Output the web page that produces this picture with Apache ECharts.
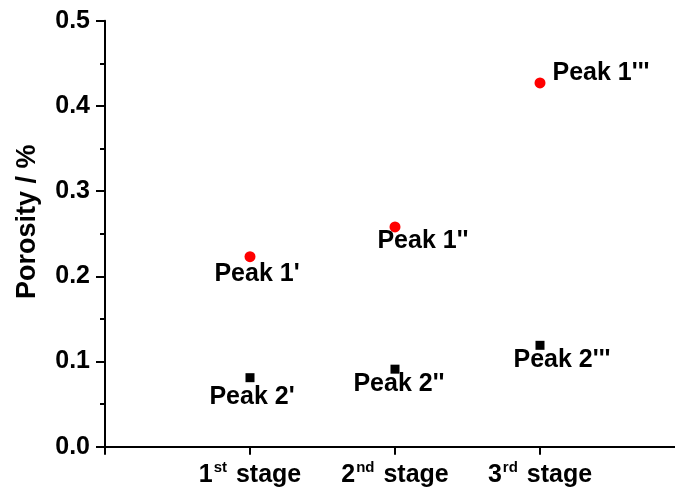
<!DOCTYPE html>
<html>
<head>
<meta charset="utf-8">
<script src="https://cdn.jsdelivr.net/npm/echarts@6/dist/echarts.min.js"></script>
<style>html,body{margin:0;padding:0;background:#fff}#c{width:675px;height:495px}</style>
</head>
<body>
<div id="c"></div>
<script>
// ---- data ----
const stages = [1, 2, 3];
const stageNums = ['1', '2', '3'];
const stageSups = ['st', 'nd', 'rd'];
const peak1 = [0.223, 0.258, 0.427];
const peak2 = [0.081, 0.091, 0.119];
const peak1Names = ["Peak 1'", "Peak 1''", "Peak 1'''"];
const peak2Names = ["Peak 2'", "Peak 2''", "Peak 2'''"];
const yTicks = [0.0, 0.1, 0.2, 0.3, 0.4, 0.5];

// ---- styles (label offsets relative to markers) ----
const FONT = '"Liberation Sans", Arial, sans-serif';
const p1Offsets = [[7, 17], [28, 14], [61, -10]];
const p2Offsets = [[2, 19], [4, 15], [22, 15]];

function buildData(vals, names, offs) {
  return vals.map((v, i) => ({
    value: [stages[i], v],
    name: names[i],
    label: { offset: offs[i] }
  }));
}

const chart = echarts.init(document.getElementById('c'), null, { renderer: 'canvas' });
const labelStyle = {
  show: true, position: 'inside', formatter: p => p.name,
  color: '#000', fontFamily: FONT, fontWeight: 'bold', fontSize: 25,
  textBorderWidth: 0, textShadowBlur: 0,
  align: 'center', verticalAlign: 'middle'
};
chart.setOption({
  animation: false,
  backgroundColor: '#fff',
  grid: { left: 105, top: 20.7, width: 580, bottom: 48.3, outerBoundsMode: 'none', containLabel: false },
  xAxis: {
    type: 'value', min: 0, max: 4, interval: 1,
    axisLine: { show: true, lineStyle: { color: '#000', width: 2 } },
    axisTick: { show: true, inside: false, length: 8, customValues: [0].concat(stages), lineStyle: { color: '#000', width: 2 } },
    splitLine: { show: false },
    axisLabel: {
      margin: 14,
      customValues: stages,
      formatter: v => {
        const i = stages.indexOf(v);
        if (i < 0) return '';
        return '{n|' + stageNums[i] + '}{s|' + stageSups[i] + '}{t|stage}';
      },
      rich: {
        n: { fontFamily: FONT, fontWeight: 'bold', fontSize: 25, color: '#000' },
        t: { fontFamily: FONT, fontWeight: 'bold', fontSize: 25, color: '#000', padding: [0, 0, 0, 9] },
        s: { fontFamily: FONT, fontWeight: 'bold', fontSize: 15, color: '#000', verticalAlign: 'top', padding: [0, 0, 14, 1] }
      }
    }
  },
  yAxis: {
    type: 'value', min: 0, max: 0.5, interval: 0.1,
    name: 'Porosity / %', nameLocation: 'middle', nameGap: 64, nameRotate: 90,
    nameTextStyle: { fontFamily: FONT, fontWeight: 'bold', fontSize: 27, color: '#000', padding: [0, 0, 0, 24] },
    axisLine: { show: true, lineStyle: { color: '#000', width: 2 } },
    axisTick: { show: true, inside: false, length: 9, lineStyle: { color: '#000', width: 2 } },
    minorTick: { show: true, splitNumber: 2, length: 5, lineStyle: { color: '#000', width: 2 } },
    splitLine: { show: false },
    axisLabel: {
      margin: 15, color: '#000', fontFamily: FONT, fontWeight: 'bold', fontSize: 25,
      formatter: v => v.toFixed(1)
    }
  },
  series: [
    {
      type: 'scatter', symbol: 'circle', symbolSize: 11,
      itemStyle: { color: '#ff0000', opacity: 1 },
      label: labelStyle,
      data: buildData(peak1, peak1Names, p1Offsets)
    },
    {
      type: 'scatter', symbol: 'rect', symbolSize: 9,
      itemStyle: { color: '#000', opacity: 1 },
      label: labelStyle,
      data: buildData(peak2, peak2Names, p2Offsets)
    }
  ]
});
</script>
</body>
</html>
